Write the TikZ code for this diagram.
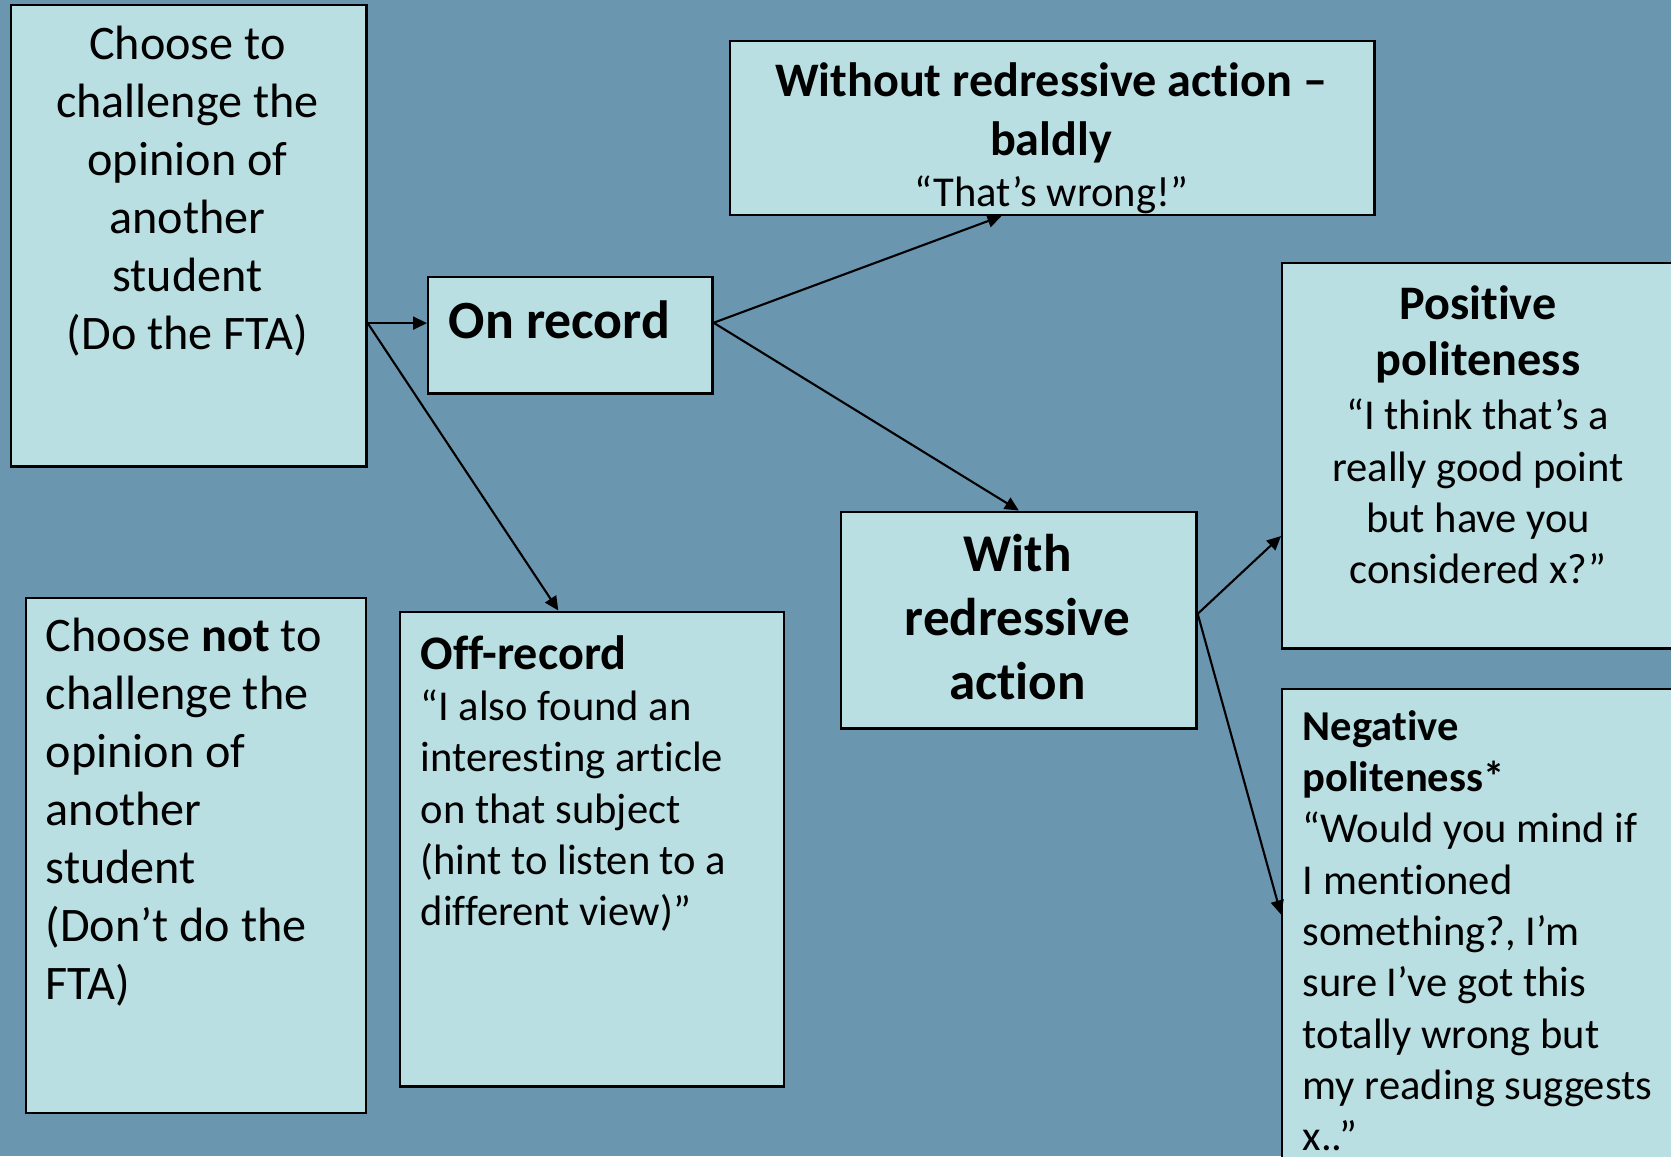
\documentclass[tikz,border=0pt]{standalone}
\usepackage{fontspec}
\setmainfont{Carlito}[Ligatures=NoCommon]
\usetikzlibrary{arrows.meta}
\definecolor{slate}{RGB}{107,150,176}
\definecolor{paleblue}{RGB}{185,223,227}
\tikzset{
  box/.style={draw=black,fill=paleblue,line width=0.7pt,anchor=north west,inner sep=0pt},
  txt/.style={inner sep=0pt,font=\fontsize{13.7}{16.5}\selectfont},
  quote/.style={inner sep=0pt,font=\fontsize{12.1}{14.6}\selectfont},
  link/.style={-{Triangle[length=0.14cm,width=0.13cm]},line width=0.6pt},
}
\begin{document}
\begin{tikzpicture}[x=0.01cm,y=-0.01cm]
\clip (0,0) rectangle (1671,1156);
\fill[slate] (0,0) rectangle (1671,1156);
% the boxes
\node[box,minimum width=3.55cm,minimum height=4.61cm] (fta) at (10,4) {};
\node[box,minimum width=3.40cm,minimum height=5.145cm] (notfta) at (24.5,597) {};
\node[box,minimum width=2.84cm,minimum height=1.16cm] (onrec) at (427,276) {};
\node[box,minimum width=3.84cm,minimum height=4.745cm] (offrec) at (398.5,610.5) {};
\node[box,minimum width=6.44cm,minimum height=1.74cm] (bald) at (729,39.5) {};
\node[box,minimum width=3.55cm,minimum height=2.165cm] (withr) at (840,510.5) {};
\node[box,minimum width=3.94cm,minimum height=3.85cm] (pos) at (1281,262) {};
\node[box,minimum width=3.94cm,minimum height=5.5cm] (neg) at (1281,687.5) {};
% texts
\node[txt,align=center,anchor=north] (ftatext) at (187.5,25) {Choose to\\challenge the\\opinion of\\another\\student\\(Do the FTA)};
\node[txt,align=left,anchor=north west] (notftatext) at (45,617) {Choose \textbf{not} to\\challenge the\\opinion of\\another\\student\\(Don’t do the\\FTA)};
\node[inner sep=0pt,anchor=base west,font=\fontsize{15.3}{19}\selectfont\bfseries] (onrectext) at (448,338) {On record};
\node[quote,align=left,anchor=north west] (offrectext) at (420,634.5) {{\fontsize{13.7}{14.6}\selectfont\bfseries Off-record}\\“I also found an\\interesting article\\on that subject\\(hint to listen to a\\different view)”};
\node[txt,align=center,anchor=north,font=\fontsize{13.7}{16.7}\selectfont\bfseries] (baldtext) at (1051,62) {Without redressive action –\\baldly\\[-0.075cm]{\fontsize{12.1}{14.6}\selectfont\mdseries “That’s wrong!”}};
\node[inner sep=0pt,align=center,anchor=north,font=\fontsize{15.1}{18.2}\selectfont\bfseries] (withtext) at (1017.5,533.5) {With\\redressive\\action};
\node[quote,align=center,anchor=north] (postext) at (1478,284.5) {{\fontsize{13.7}{14.6}\selectfont\bfseries Positive}\\[0.056cm]{\fontsize{13.7}{14.6}\selectfont\bfseries politeness}\\[0.024cm]“I think that’s a\\really good point\\but have you\\considered x?”};
\node[quote,align=left,anchor=north west,font=\fontsize{12.1}{14.6}\selectfont] (negtext) at (1302,709.5) {\textbf{Negative}\\\textbf{politeness*}\\“Would you mind if\\I mentioned\\something?, I’m\\sure I’ve got this\\totally wrong but\\my reading suggests\\x..”};
% connectors
\draw[link] (fta.334) -- (fta.334 -| onrec.west);
\draw[link] (fta.334) -- (offrec.98.5);
\draw[link] (onrec.5.6) -- (bald.240.75);
\draw[link] (onrec.5.6) -- (withr.north);
\draw[link] (withr.2.8) -- (pos.202.2);
\draw[link] (withr.2.8) -- (neg.166.4);
\end{tikzpicture}
\end{document}
